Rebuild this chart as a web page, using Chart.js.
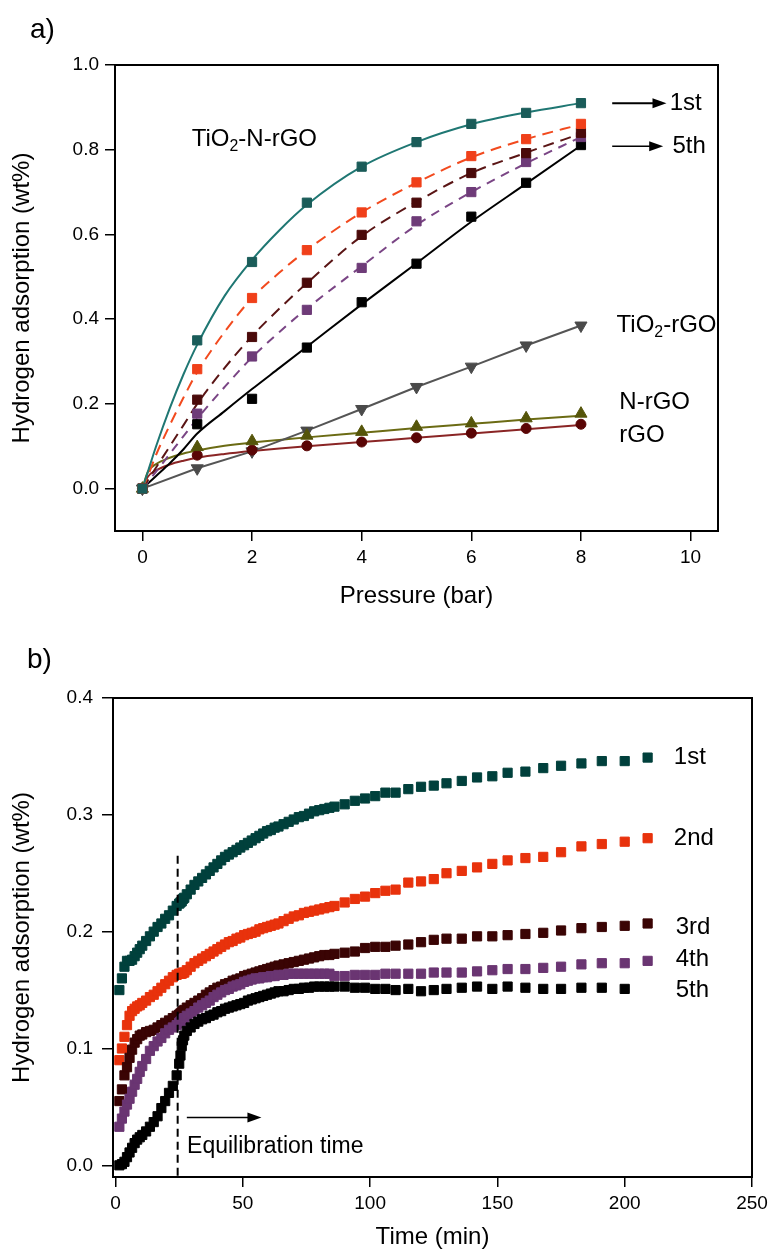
<!DOCTYPE html>
<html>
<head>
<meta charset="utf-8">
<script src="https://cdn.jsdelivr.net/npm/chart.js@4/dist/chart.umd.min.js"></script>
<style>
body { margin: 0; background: #fff; }
#wrap { position: relative; width: 774px; height: 1256px; }
canvas { position: absolute; left: 0; }
</style>
</head>
<body>
<div id="wrap">
  <canvas id="chartA" width="774" height="640" style="top:0"></canvas>
  <canvas id="chartB" width="774" height="616" style="top:640px"></canvas>
</div>
<script>
// ---- panel a : adsorption vs pressure ----
var pressure = [0, 1, 2, 3, 4, 5, 6, 7, 8];
var cycle1 = [0, 0.35, 0.535, 0.675, 0.76, 0.818, 0.861, 0.887, 0.91];
var cycle2 = [0, 0.282, 0.45, 0.563, 0.652, 0.723, 0.785, 0.825, 0.861];
var cycle3 = [0, 0.21, 0.358, 0.486, 0.599, 0.675, 0.745, 0.792, 0.84];
var cycle4 = [0, 0.177, 0.312, 0.422, 0.521, 0.631, 0.70, 0.771, 0.83];
var cycle5 = [0, 0.152, 0.212, 0.333, 0.44, 0.531, 0.642, 0.722, 0.811];
var tio2rgo = [0, 0.048, 0.088, 0.137, 0.188, 0.24, 0.288, 0.338, 0.385];
var nrgo = [0, 0.098, 0.112, 0.125, 0.134, 0.146, 0.154, 0.166, 0.177];
var rgo = [0, 0.079, 0.091, 0.101, 0.11, 0.12, 0.131, 0.142, 0.152];

// fitted curves
var fitP = [0, 0.1, 0.25, 0.5, 0.75, 1, 1.5, 2, 2.5, 3, 4, 5, 6, 7, 8];
var fit1 = [0, 0.04, 0.10, 0.19, 0.27, 0.34, 0.455, 0.54, 0.61, 0.67, 0.76, 0.818, 0.86, 0.888, 0.91];
var fit2 = [0, 0.03, 0.08, 0.15, 0.215, 0.275, 0.37, 0.45, 0.51, 0.563, 0.652, 0.722, 0.782, 0.825, 0.86];
var fit3 = [0, 0.02, 0.05, 0.10, 0.15, 0.20, 0.285, 0.36, 0.425, 0.485, 0.596, 0.677, 0.745, 0.793, 0.838];
var fit4 = [0, 0.016, 0.04, 0.082, 0.124, 0.165, 0.24, 0.31, 0.37, 0.425, 0.525, 0.622, 0.70, 0.768, 0.83];
var fit5 = [0, 0.012, 0.03, 0.06, 0.093, 0.13, 0.183, 0.235, 0.285, 0.335, 0.435, 0.532, 0.63, 0.72, 0.81];
var fitN = [0, 0.04, 0.058, 0.073, 0.083, 0.09, 0.101, 0.109, 0.115, 0.121, 0.132, 0.143, 0.153, 0.163, 0.172];
var fitR = [0, 0.028, 0.043, 0.057, 0.066, 0.073, 0.082, 0.089, 0.095, 0.10, 0.11, 0.12, 0.13, 0.14, 0.15];

var ticksAx = [0, 2, 4, 6, 8, 10];
var ticksAy = [0, 0.2, 0.4, 0.6, 0.8, 1.0];

// ---- panel b : adsorption vs time ----
var timeB = [1.5, 2.5, 3.5, 4.5, 5.5, 6.5, 7.5, 8.5, 9.5, 10.5,
  12, 13.5, 15, 16.5, 18, 19.5, 21, 22.5, 24,
  25, 25.5, 26, 26.5, 27, 28,
  29.5, 31, 32.5, 34, 35.5, 37, 38.5, 40, 41.5, 43, 44.5, 46, 47.5, 49, 50.5, 52, 53.5, 55, 56.5, 58, 59.5, 61, 62.5, 64,
  66, 68, 70, 72, 74, 76, 78, 80, 82, 84, 86,
  90, 94, 98, 102, 106, 110,
  115, 120, 125, 130,
  136, 142, 148, 154,
  161, 168, 175,
  183, 191, 200, 209];
var run1 = [0.150, 0.160, 0.170, 0.175, 0.175, 0.176, 0.179, 0.182, 0.185, 0.188,
  0.192, 0.196, 0.200, 0.204, 0.207, 0.211, 0.214, 0.218, 0.222,
  0.224, 0.225, 0.226, 0.228, 0.229, 0.232,
  0.236, 0.240, 0.243, 0.246, 0.249, 0.252, 0.255, 0.258, 0.261, 0.264, 0.266, 0.268, 0.270, 0.272, 0.274, 0.276, 0.278, 0.280, 0.282, 0.284, 0.286, 0.287, 0.289, 0.290,
  0.292, 0.294, 0.296, 0.298, 0.299, 0.301, 0.303, 0.304, 0.305, 0.306, 0.307,
  0.309, 0.312, 0.314, 0.316, 0.319, 0.319,
  0.322, 0.324, 0.325, 0.327,
  0.329, 0.332, 0.333, 0.336,
  0.337, 0.340, 0.342,
  0.344, 0.346, 0.346, 0.349];
var run2 = [0.090, 0.100, 0.110, 0.120, 0.128, 0.132, 0.134, 0.136, 0.137, 0.139,
  0.141, 0.144, 0.146, 0.149, 0.152, 0.155, 0.158, 0.161, 0.163,
  0.164, 0.164, 0.164, 0.165, 0.165, 0.167,
  0.170, 0.173, 0.175, 0.177, 0.179, 0.181, 0.183, 0.185, 0.187, 0.189, 0.191, 0.192, 0.194, 0.195, 0.197, 0.198, 0.199, 0.200, 0.202, 0.203, 0.204, 0.205, 0.206, 0.207,
  0.209, 0.211, 0.213, 0.214, 0.216, 0.217, 0.218, 0.219, 0.220, 0.221, 0.222,
  0.225, 0.228, 0.230, 0.233, 0.235, 0.236,
  0.242, 0.243, 0.245, 0.250,
  0.252, 0.255, 0.258, 0.261,
  0.263, 0.264, 0.268,
  0.273, 0.275, 0.277, 0.280];
var run3 = [0.055, 0.065, 0.077, 0.084, 0.092, 0.099, 0.105, 0.108, 0.111, 0.112,
  0.114, 0.115, 0.116, 0.118, 0.120, 0.122, 0.124, 0.126, 0.128,
  0.129, 0.130, 0.131, 0.132, 0.133, 0.135,
  0.137, 0.139, 0.141, 0.143, 0.146, 0.148, 0.150, 0.152, 0.153, 0.155, 0.156, 0.158, 0.159, 0.160, 0.162, 0.163, 0.164, 0.165, 0.166, 0.167, 0.168, 0.169, 0.170, 0.171,
  0.172, 0.173, 0.174, 0.175, 0.176, 0.177, 0.178, 0.179, 0.180, 0.180, 0.181,
  0.182, 0.183, 0.186, 0.187, 0.187, 0.188,
  0.189, 0.191, 0.193, 0.194,
  0.194, 0.196, 0.196, 0.197,
  0.198, 0.199, 0.201,
  0.203, 0.204, 0.205, 0.207];
var run4 = [0.033, 0.040, 0.046, 0.052, 0.057, 0.063, 0.069, 0.074, 0.080, 0.085,
  0.091, 0.098, 0.102, 0.106, 0.109, 0.113, 0.116, 0.118, 0.120,
  0.122, 0.123, 0.124, 0.125, 0.126, 0.128,
  0.130, 0.132, 0.135, 0.137, 0.139, 0.141, 0.144, 0.146, 0.148, 0.150, 0.151, 0.153, 0.154, 0.155, 0.157, 0.158, 0.159, 0.160, 0.160, 0.161, 0.161, 0.162, 0.162, 0.163,
  0.163, 0.164, 0.164, 0.164, 0.164, 0.164, 0.164, 0.164, 0.164, 0.164, 0.162,
  0.162, 0.163, 0.163, 0.163, 0.164, 0.164,
  0.164, 0.164, 0.165, 0.165,
  0.165, 0.166, 0.167, 0.168,
  0.168, 0.169, 0.170,
  0.172, 0.173, 0.173, 0.175];
var run5 = [0.000, 0.001, 0.003, 0.007, 0.011, 0.015, 0.019, 0.022, 0.024, 0.026,
  0.029, 0.033, 0.037, 0.042, 0.049, 0.055, 0.062, 0.068, 0.077,
  0.087, 0.094, 0.102, 0.107, 0.111, 0.115,
  0.118, 0.121, 0.123, 0.125, 0.126, 0.128, 0.129, 0.131, 0.132, 0.134, 0.135, 0.136, 0.137, 0.138, 0.139, 0.141, 0.142, 0.143, 0.144, 0.145, 0.146, 0.147, 0.148, 0.149,
  0.149, 0.150, 0.151, 0.151, 0.152, 0.152, 0.153, 0.153, 0.153, 0.153, 0.153,
  0.153, 0.152, 0.152, 0.151, 0.151, 0.150,
  0.151, 0.149, 0.150, 0.151,
  0.152, 0.153, 0.151, 0.153,
  0.152, 0.151, 0.151,
  0.152, 0.152, 0.151, null];

var ticksBx = [0, 50, 100, 150, 200, 250];
var ticksBy = [0, 0.1, 0.2, 0.3, 0.4];

var FONT = '"Liberation Sans", Arial, sans-serif';
Chart.defaults.font.family = FONT;
Chart.defaults.color = '#000';

function xy(xs, ys) {
  return xs.map(function(x, i) { return { x: x, y: ys[i] }; });
}

function richText(ctx, parts, x, y, size) { //parts: [texto, subindice?]
  var cx = x;
  parts.forEach(function(p) {
    var s = p[1] ? size * 0.66 : size;
    ctx.font = s + 'px ' + FONT;
    ctx.fillText(p[0], cx, y + (p[1] ? size * 0.3 : 0));
    cx += ctx.measureText(p[0]).width;
  });
}

function arrow(ctx, x1, x2, y, lw) {
  ctx.save();
  ctx.strokeStyle = '#000'; ctx.fillStyle = '#000'; ctx.lineWidth = lw;
  ctx.beginPath(); ctx.moveTo(x1, y); ctx.lineTo(x2 - 10, y); ctx.stroke();
  ctx.beginPath(); ctx.moveTo(x2, y); ctx.lineTo(x2 - 14, y - 5); ctx.lineTo(x2 - 14, y + 5);
  ctx.closePath(); ctx.fill();
  ctx.restore();
}

var boxPlugin = {
  id: 'box',
  afterDraw: function(chart) {
    var a = chart.chartArea, ctx = chart.ctx;
    ctx.save();
    ctx.strokeStyle = '#000'; ctx.lineWidth = 2;
    ctx.strokeRect(a.left, a.top, a.right - a.left, a.bottom - a.top);
    ctx.restore();
  }
};

function xAxis(min, max, ticks, height, title, pad, fmt) {
  return {
    type: 'linear', min: min, max: max,
    afterBuildTicks: function(ax) { ax.ticks = ticks.map(function(v) { return { value: v }; }); },
    afterFit: function(ax) { ax.height = height; },
    border: { display: false },
    grid: { drawOnChartArea: false, drawTicks: true, tickLength: 10, color: '#000', lineWidth: 1.5 },
    ticks: { font: { size: 19 }, padding: 5, maxRotation: 0, autoSkip: false, callback: fmt },
    title: { display: true, text: title, font: { size: 24 }, padding: { top: 0, bottom: pad } }
  };
}
function yAxis(min, max, ticks, width, tl, tp) {
  return {
    type: 'linear', min: min, max: max,
    afterBuildTicks: function(ax) { ax.ticks = ticks.map(function(v) { return { value: v }; }); },
    afterFit: function(ax) { ax.width = width; },
    border: { display: false },
    grid: { drawOnChartArea: false, drawTicks: true, tickLength: tl, color: '#000', lineWidth: 1.5 },
    ticks: { font: { size: 19 }, padding: tp, autoSkip: false, callback: function(v) { return v.toFixed(1); } },
    title: { display: true, text: 'Hydrogen adsorption (wt%)', font: { size: 24 }, padding: { top: 8, bottom: 0 } }
  };
}

function marks(ys, color, style, r, rot) {
  return { data: xy(pressure, ys), showLine: false, pointStyle: style, pointRadius: r, pointRotation: rot || 0,
    pointBackgroundColor: color, pointBorderColor: color, pointBorderWidth: 1, order: 0 };
}
function fitLine(ys, color, dash) {
  return { data: xy(fitP, ys), borderColor: color, borderWidth: 2, borderDash: dash || [], pointRadius: 0,
    cubicInterpolationMode: 'monotone', fill: false, order: 1 };
}

var notesA = {
  id: 'notesA',
  afterDraw: function(chart) {
    var ctx = chart.ctx, sx = chart.scales.x, sy = chart.scales.y;
    var px = function(v) { return sx.getPixelForValue(v); };
    var py = function(v) { return sy.getPixelForValue(v); };
    ctx.save();
    ctx.fillStyle = '#000'; ctx.textBaseline = 'middle'; ctx.textAlign = 'left';
    richText(ctx, [['TiO'], ['2', 1], ['-N-rGO']], px(0.9), py(0.824), 24);
    arrow(ctx, px(8.57), px(9.56), py(0.91), 2);
    richText(ctx, [['1st']], px(9.62), py(0.91), 24);
    arrow(ctx, px(8.57), px(9.5), py(0.808), 1.5);
    richText(ctx, [['5th']], px(9.67), py(0.808), 24);
    richText(ctx, [['TiO'], ['2', 1], ['-rGO']], px(8.65), py(0.386), 24);
    richText(ctx, [['N-rGO']], px(8.7), py(0.204), 24);
    richText(ctx, [['rGO']], px(8.7), py(0.125), 24);
    richText(ctx, [['a)']], 30, 30, 28);
    ctx.restore();
  }
};

new Chart(document.getElementById('chartA'), {
  type: 'line',
  data: {
    datasets: [
      fitLine(fit1, '#1f7773'),
      fitLine(fit2, '#f24a1e', [11, 7]),
      fitLine(fit3, '#5a1515', [11, 7]),
      fitLine(fit4, '#7a4585', [9, 7]),
      fitLine(fit5, '#000000'),
      fitLine(fitN, '#6b6b14'),
      fitLine(fitR, '#8a2525'),
      marks(cycle1, '#1a5c59', 'rect', 6.5),
      marks(cycle2, '#f0401a', 'rect', 6.5),
      marks(cycle3, '#4a0a0a', 'rect', 6.5),
      marks(cycle4, '#6e3b78', 'rect', 6.5),
      marks(cycle5, '#000000', 'rect', 6.5),
      marks(nrgo, '#55550a', 'triangle', 7),
      marks(rgo, '#5a0505', 'circle', 5),
      Object.assign(marks(tio2rgo, '#4a4a4a', 'triangle', 7, 180),
        { showLine: true, borderColor: '#555555', borderWidth: 2, tension: 0 })
    ]
  },
  options: {
    responsive: false, animation: false,
    layout: { padding: { top: 65, right: 56, left: 0, bottom: 0 } },
    plugins: { legend: { display: false }, tooltip: { enabled: false } },
    scales: {
      x: xAxis(-0.5, 10.5, ticksAx, 109, 'Pressure (bar)', 29, function(v) { return String(v); }),
      y: yAxis(-0.1, 1.0, ticksAy, 115, 10, 6)
    }
  },
  plugins: [boxPlugin, notesA]
});

var notesB = {
  id: 'notesB',
  afterDraw: function(chart) {
    var ctx = chart.ctx, sx = chart.scales.x, sy = chart.scales.y;
    var px = function(v) { return sx.getPixelForValue(v); };
    var py = function(v) { return sy.getPixelForValue(v); };
    ctx.save();
    ctx.strokeStyle = '#000'; ctx.lineWidth = 2; ctx.setLineDash([8, 5]);
    ctx.beginPath(); ctx.moveTo(px(24.4), py(0.265)); ctx.lineTo(px(24.4), py(-0.01)); ctx.stroke();
    ctx.setLineDash([]);
    arrow(ctx, px(28), px(57.3), py(0.041), 1.5);
    ctx.fillStyle = '#000'; ctx.textBaseline = 'middle'; ctx.textAlign = 'left';
    richText(ctx, [['Equilibration time']], px(28.1), py(0.016), 23);
    richText(ctx, [['1st']], px(219.3), py(0.349), 24);
    richText(ctx, [['2nd']], px(219.3), py(0.280), 24);
    richText(ctx, [['3rd']], px(220), py(0.204), 24);
    richText(ctx, [['4th']], px(220), py(0.1765), 24);
    richText(ctx, [['5th']], px(220), py(0.150), 24);
    richText(ctx, [['b)']], 27, 20, 28);
    ctx.restore();
  }
};

function runSet(ys, color, ord) {
  return { data: xy(timeB, ys), showLine: false, pointStyle: 'rect', pointRadius: 6.5,
    pointBackgroundColor: color, pointBorderColor: color, pointBorderWidth: 1, order: ord };
}

new Chart(document.getElementById('chartB'), {
  type: 'line',
  data: {
    datasets: [
      runSet(run1, '#00403c', 5),
      runSet(run2, '#e8320c', 4),
      runSet(run3, '#3a0404', 3),
      runSet(run4, '#6a3572', 2),
      runSet(run5, '#000000', 1)
    ]
  },
  options: {
    responsive: false, animation: false,
    layout: { padding: { top: 58, right: 22, left: 0, bottom: 0 } },
    plugins: { legend: { display: false }, tooltip: { enabled: false } },
    scales: {
      x: xAxis(-1, 250, ticksBx, 79, 'Time (min)', 4, function(v) { return String(v); }),
      y: yAxis(-0.01, 0.4, ticksBy, 113, 11, 9)
    }
  },
  plugins: [boxPlugin, notesB]
});
</script>
</body>
</html>
